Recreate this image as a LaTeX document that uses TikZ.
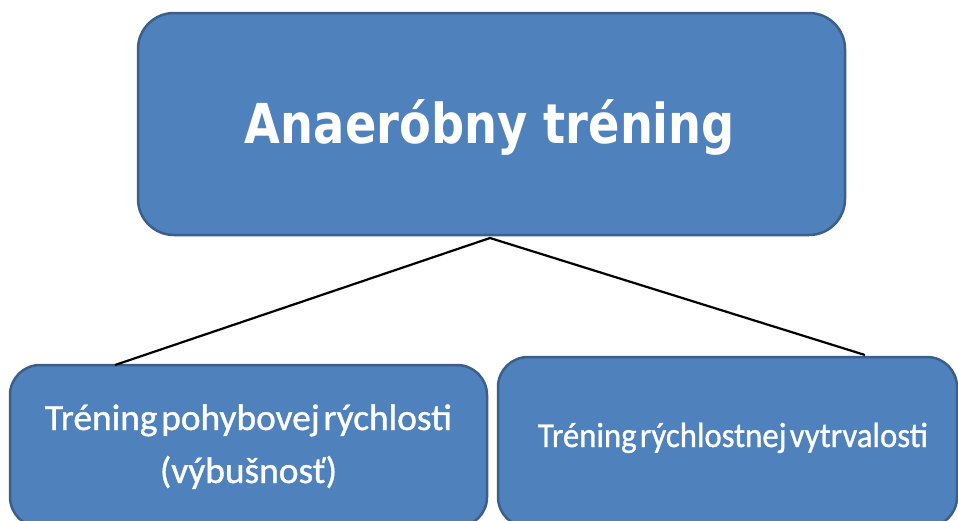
\documentclass[tikz,border=0pt]{standalone}
\usepackage{fontspec}
\usepackage{graphicx}
\setmainfont{Carlito}
\newfontfamily\botfont[FakeBold=1]{Carlito}
\newfontfamily\topfont{DejaVu Sans}
\definecolor{boxfill}{HTML}{4F81BD}
\definecolor{boxedge}{HTML}{3A5F8C}
\tikzset{
  box/.style={draw=boxedge, line width=2.5pt, fill=boxfill, rounded corners=#1},
  box/.default=32pt,
  lbl/.style={text=white, inner sep=0pt, align=center, anchor=base},
  conn/.style={draw=black, line width=2.2pt}
}
\begin{document}
\begin{tikzpicture}[x=1pt,y=-1pt]
\useasboundingbox (0,0) rectangle (958,520);
\clip (0,0) rectangle (958,520);
% top box
\node[box=36pt, minimum width=707pt, minimum height=222pt] (top) at (491.5,124) {};
\node[lbl] (toptext) at (490,143) {\resizebox{490pt}{\height}{\topfont\bfseries\fontsize{55}{60}\selectfont Anaeróbny tréning}};
% bottom boxes
\node[box=30pt, minimum width=477pt, minimum height=162pt] (left) at (248.5,446) {};
\node[box=30pt, minimum width=459pt, minimum height=170pt] (right) at (727.5,442) {};
\node[lbl] (lefttext) at (248.5,430) {\resizebox{407pt}{\height}{\botfont\fontsize{37}{53}\selectfont\spaceskip=0.1em\begin{tabular}[t]{@{}c@{}}Tréning pohybovej rýchlosti\\(výbušnosť)\end{tabular}}};
\node[lbl] (righttext) at (733,447) {\resizebox{390pt}{\height}{\botfont\fontsize{35}{40}\selectfont\spaceskip=0.1em Tréning rýchlostnej vytrvalosti}};
% connectors
\coordinate (apex) at (490,238);
\coordinate (lend) at (115,365);
\coordinate (rend) at (865,355);
\draw[conn] (lend) -- (apex) -- (rend);
\end{tikzpicture}
\end{document}
